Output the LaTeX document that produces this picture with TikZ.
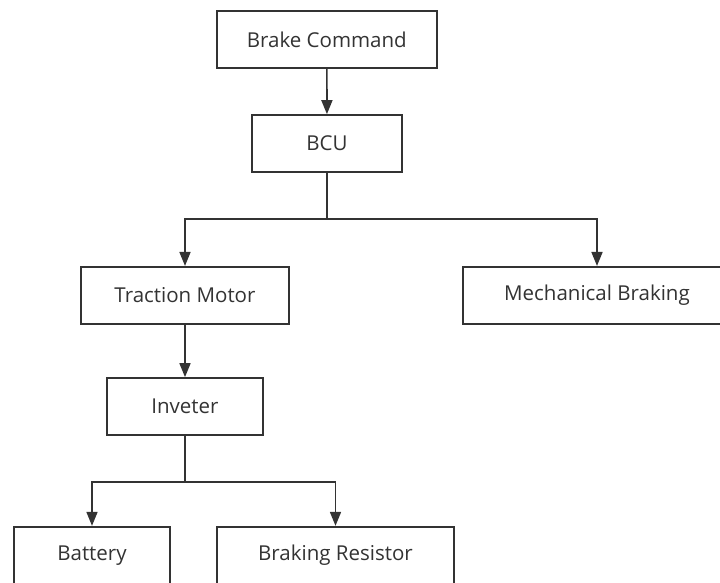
\documentclass[tikz,border=0pt]{standalone}
\usepackage{fontspec}
\setmainfont{Open Sans}
\usetikzlibrary{arrows.meta}
\definecolor{ln}{HTML}{333333}
\definecolor{tx}{HTML}{333333}
\tikzset{
  box/.style={draw=ln, line width=1.7pt, fill=white, minimum height=57pt, inner sep=0pt, text=tx, font=\fontsize{20.5}{24}\selectfont},
  arr/.style={draw=ln, line width=1.7pt, -{Triangle[length=14pt,width=11pt]}}
}
\begin{document}
\begin{tikzpicture}[x=1pt,y=-1pt]
\useasboundingbox (0,0) rectangle (720,583);
\clip (0,0) rectangle (720,583);
\node[box, minimum width=220pt] (bc) at (326.8,39.5) {Brake Command};
\node[box, minimum width=150pt] (bcu) at (327,143.5) {BCU};
\node[box, minimum width=208pt] (tm) at (185,295.3) {Traction Motor};
\node[box, minimum width=268pt] (mb) at (597,295.3) {Mechanical Braking};
\node[box, minimum width=156pt] (inv) at (185,406.5) {Inveter};
\node[box, minimum width=156pt] (bat) at (92,555.2) {Battery};
\node[box, minimum width=237pt] (br) at (335.5,555.2) {Braking Resistor};
\coordinate (j1) at (327,219);
\coordinate (j2) at (185,482);
\draw[arr] (bc) -- (bcu);
\draw[arr] (bcu.south) -- (j1) -| (tm.north);
\draw[arr] (bcu.south) -- (j1) -| (mb.north);
\draw[arr] (tm) -- (inv);
\draw[arr] (inv.south) -- (j2) -| (bat.north);
\draw[arr] (inv.south) -- (j2) -| (br.north);
\end{tikzpicture}
\end{document}
